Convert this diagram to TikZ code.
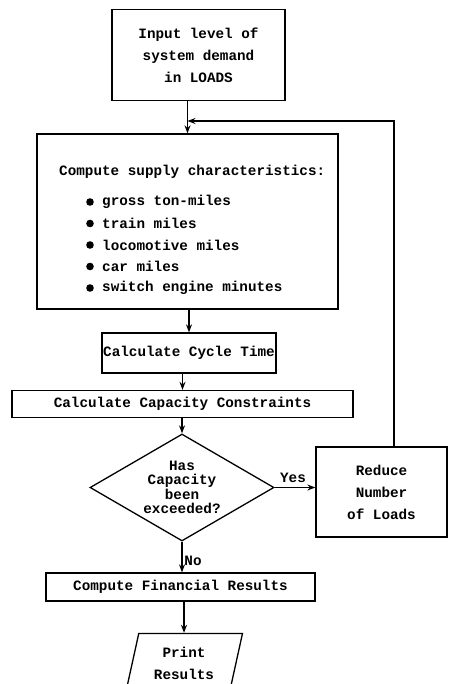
\documentclass[tikz,border=0pt]{standalone}
\usepackage{fontspec}
\setmonofont{Liberation Mono}
\usetikzlibrary{shapes.geometric, arrows.meta}
\begin{document}
\begin{tikzpicture}[x=1pt, y=-1pt, >={Stealth[length=8pt, width=6pt]},
    every node/.style={font=\ttfamily\bfseries\fontsize{14.3}{22}\selectfont},
    box/.style={draw, line width=1.3pt, align=center, inner sep=2pt},
    decision/.style={diamond, draw, line width=1.3pt, align=center, aspect=1.72,
        inner sep=0pt, minimum width=184pt, minimum height=107pt,
        font=\ttfamily\bfseries\fontsize{14.3}{14.5}\selectfont},
    output/.style={trapezium, draw, line width=1.3pt, align=center,
        trapezium left angle=76, trapezium right angle=104, trapezium stretches=true},
    flow/.style={->, line width=1.3pt}]
    \useasboundingbox (0,0) rectangle (450,684);

    \node[box, minimum width=173pt, minimum height=91pt] (input) at (198.5,55)
        {Input level of\\system demand\\in LOADS};
    \node[box, minimum width=301pt, minimum height=175pt] (supply) at (187.5,221.5) {};
    \node[anchor=west, inner sep=0pt] (supplyhead) at (59,172) {Compute supply characteristics:};
    \foreach \t [count=\i] in {gross ton-miles, train miles, locomotive miles,
        car miles, switch engine minutes} {
        \fill ({90},{202+21.5*(\i-1)}) circle (3.8pt);
        \node[anchor=west, inner sep=0pt] (item\i) at ({102},{202+21.5*(\i-1)}) {\t};
    }
    \node[box, minimum width=174pt, minimum height=40pt, inner sep=1pt] (cycle) at (189,353)
        {Calculate Cycle Time};
    \node[box, minimum width=341pt, minimum height=27pt] (capacity) at (182.5,404)
        {Calculate Capacity Constraints};
    \node[decision] (check) at (182,487.5) {Has\\Capacity\\been\\exceeded?};
    \node[box, minimum width=131pt, minimum height=90pt] (reduce) at (381.5,492)
        {Reduce\\Number\\of Loads};
    \node[box, minimum width=269pt, minimum height=28pt] (financial) at (180.5,587)
        {Compute Financial Results};
    \node[output, minimum width=118pt, minimum height=60pt] (print) at (184,663.5)
        {Print\\Results};

    \node (yes) at (293,478) {Yes};
    \node (no) at (193,561) {No};

    \draw[flow] (input.south -| supply.north) -- (supply.north);
    \draw[flow] (supply.south -| cycle.north) -- (cycle.north);
    \draw[flow] (cycle.south -| capacity.north) -- (capacity.north);
    \draw[flow] (capacity.south -| check.north) -- (check.north);
    \draw[flow] (check.east) -- (check.east -| reduce.west);
    \draw[flow] (check.south) -- (check.south |- financial.north);
    \draw[flow] (financial.south -| print.north) -- (print.north);

    % loop back to the supply step
    \coordinate (turn) at (394,121);
    \draw[flow] (reduce.north -| turn) -- (turn) -- (turn -| supply.north);
\end{tikzpicture}
\end{document}
